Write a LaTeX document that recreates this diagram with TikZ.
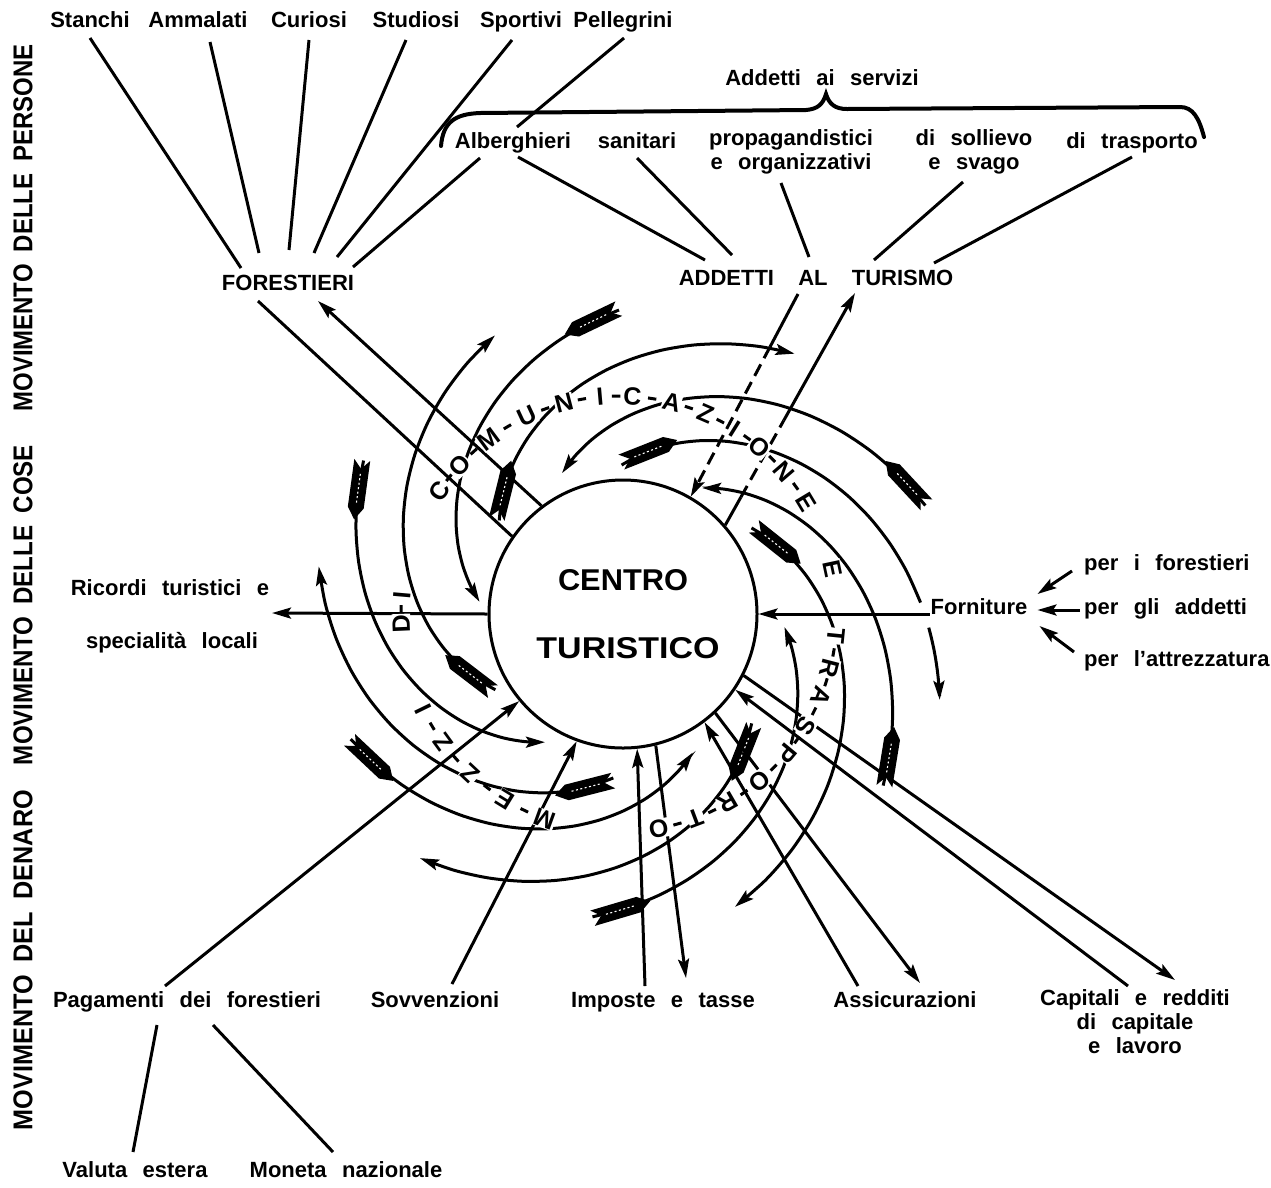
\documentclass[tikz,border=0pt]{standalone}
\usepackage{graphicx}
\usepackage{fontspec}
\setmainfont{Liberation Sans}
\usetikzlibrary{arrows.meta,calc}
\newcommand\lblfont{\fontsize{22}{24}\selectfont\bfseries\spaceskip=0.7em plus 0.1em\relax}
\newcommand\capfont{\fontsize{22}{24}\selectfont\bfseries\spaceskip=1.1em plus 0.1em\relax}
\newcommand\spir[6]{plot[smooth,domain=#1:#2,samples=15,variable=\t]({619+(#4+(#6-#4)*\t)*cos(#3+(#5-#3)*\t)},{614-(#4+(#6-#4)*\t)*sin(#3+(#5-#3)*\t)})}
\newcommand\fletchat[4]{%
  \pgfmathsetmacro\fDth{(#3-#1)*pi/180}%
  \pgfmathsetmacro\fSp{100*veclen((#4-#2)/100,#2*\fDth/100)}%
  \pgfmathsetmacro\fTm{28/\fSp}%
  \pgfmathsetmacro\fR{#2+(#4-#2)*\fTm}%
  \pgfmathsetmacro\fTh{#1+(#3-#1)*\fTm}%
  \pgfmathsetmacro\fDx{(#4-#2)*cos(\fTh)-\fR*\fDth*sin(\fTh)}%
  \pgfmathsetmacro\fDy{(#4-#2)*sin(\fTh)+\fR*\fDth*cos(\fTh)}%
  \pgfmathsetmacro\fAng{atan2(\fDy,\fDx)}%
  \begin{scope}[shift={({619+\fR*cos(\fTh)},{614-\fR*sin(\fTh)})},rotate=\fAng]
    \fill (-28,8) -- (20,8) -- (32,0) -- (20,-8) -- (-28,-8) -- (-19,0) -- cycle;
    \draw[white,line width=1.1pt,dash pattern=on 2pt off 2.5pt] (-14,0) -- (17,0);
  \end{scope}}
\tikzset{
  ln/.style={line width=3pt},
  arr/.style={ln,-{Stealth[length=19pt,width=11pt,inset=3.5pt]}},
  lbl/.style={font=\lblfont,inner sep=1pt,text height=16pt,text depth=5pt},
  mlbl/.style={font=\lblfont,inner sep=1pt,align=center},
  ringl/.style={font=\fontsize{25}{25}\selectfont\bfseries,fill=white,inner sep=0.6pt},
  side/.style={font=\fontsize{22}{22}\selectfont\bfseries,rotate=90,inner sep=0pt},
}
\begin{document}
\begin{tikzpicture}[x=1pt,y=-1pt]
\useasboundingbox (0,0) rectangle (1271,1187);
\node[draw,circle,line width=3pt,minimum size=268pt,inner sep=0pt,fill=white] (ct) at (623,614) {};

% ---------- side labels
\node[side] (mp) at (23,228) {\resizebox{367pt}{19pt}{MOVIMENTO\hspace{0.5em}DELLE\hspace{0.5em}PERSONE}};
\node[side] (mc) at (23,605) {\resizebox{320pt}{19pt}{MOVIMENTO\hspace{0.5em}DELLE\hspace{0.5em}COSE}};
\node[side] (md) at (23,960) {\resizebox{340pt}{19pt}{MOVIMENTO\hspace{0.5em}DEL\hspace{0.5em}DENARO}};

% ---------- top labels
\node[lbl] (sta) at (90,22) {Stanchi};
\node[lbl] (amm) at (198,22) {Ammalati};
\node[lbl] (cur) at (309,22) {Curiosi};
\node[lbl] (stu) at (416,22) {Studiosi};
\node[lbl] (spo) at (521,22) {Sportivi};
\node[lbl] (pel) at (623,22) {Pellegrini};
\node[lbl] (serv) at (822,80) {Addetti ai servizi};
\node[lbl] (alb) at (513,143) {Alberghieri};
\node[lbl] (san) at (637,143) {sanitari};
\node[mlbl] (prop) at (791,152) {propagandistici\\e organizzativi};
\node[mlbl] (soll) at (974,152) {di sollievo\\e svago};
\node[lbl] (trasp) at (1132,143) {di trasporto};
\node[lbl] (for) at (288,285) {FORESTIERI};
\node[lbl,font=\capfont] (addt) at (816,280) {ADDETTI AL TURISMO};

\draw[line width=4pt,line cap=round] (441,146) .. controls (443,122) and (455,114) .. (480,113) -- (806,110) .. controls (818,109) and (823,104) .. (826,94) .. controls (829,104) and (835,109) .. (847,109) -- (1180,107) .. controls (1193,107) and (1199,118) .. (1204,137);

\coordinate (f1) at (241,268); \coordinate (f2) at (259,253); \coordinate (f3) at (289,250);
\coordinate (f4) at (314,253); \coordinate (f5) at (337,257); \coordinate (f6) at (353,267);
\coordinate (s1) at (90,38); \coordinate (s2) at (210,42); \coordinate (s3) at (309,40);
\coordinate (s4) at (406,40); \coordinate (s5) at (512,40); \coordinate (s6) at (624,38);
\coordinate (s6e) at (517,127);
\coordinate (al1) at (480,158); \coordinate (al2) at (518,157);
\coordinate (sa1) at (637,158); \coordinate (pr1) at (781,183); \coordinate (so1) at (963,182); \coordinate (tr1) at (1132,157);
\coordinate (a1) at (705,260); \coordinate (a2) at (732,255); \coordinate (a3) at (809,257); \coordinate (a4) at (874,260); \coordinate (a5) at (934,263);
\draw[ln] (s1) -- (f1); \draw[ln] (s2) -- (f2); \draw[ln] (s3) -- (f3);
\draw[ln] (s4) -- (f4); \draw[ln] (s5) -- (f5); \draw[ln] (s6) -- (s6e);
\draw[ln] (al1) -- (f6); \draw[ln] (al2) -- (a1); \draw[ln] (sa1) -- (a2);
\draw[ln] (pr1) -- (a3); \draw[ln] (so1) -- (a4); \draw[ln] (tr1) -- (a5);

% ---------- spiral arrows
\draw[arr] \spir{0}{1}{149}{298}{240}{148};     \fletchat{149}{298}{240}{148}
\draw[arr] \spir{0}{1}{90}{304}{175}{140};      \fletchat{90}{304}{175}{140}
\draw[arr] \spir{0}{1}{19.5}{325}{112}{152};    \fletchat{19.5}{325}{112}{152}
\draw[arr] \spir{0}{1}{327}{315}{416.6}{151};   \fletchat{327}{315}{416.6}{151}
\draw[arr] \spir{0}{1}{265}{304}{355.5}{166};   \fletchat{265}{304}{355.5}{166}
\draw[arr] \spir{0}{1}{205}{296}{298}{157};     \fletchat{205}{296}{298}{157}
\draw[arr] \spir{0}{1}{211.5}{145}{114}{305};   \fletchat{211.5}{145}{114}{305}
\draw[arr] \spir{0}{1}{142}{152}{56}{314};      \fletchat{142}{152}{56}{314}
\draw[ln]  \spir{0}{0.835}{449}{149}{345}{332}; \fletchat{449}{149}{345}{332}
\draw[arr] \spir{0.88}{1}{449}{149}{345}{332};
\draw[arr] \spir{0}{1}{393}{158}{291.6}{315};   \fletchat{393}{158}{291.6}{315}
\draw[arr] \spir{0}{1}{320.5}{172}{230.8}{315}; \fletchat{320.5}{172}{230.8}{315}
\draw[arr] \spir{0}{1}{268}{164}{171}{304};     \fletchat{268}{164}{171}{304}

% ---------- straight flows
\coordinate (forA) at (318,301); \coordinate (forB) at (258,301);
\draw[arr] (ct.127) -- (forA);
\draw[ln] (forB) -- (ct.145.5);
\coordinate (adA) at (798,294); \coordinate (adB) at (855,293);
\coordinate (adA1) at ($(adA)!0.26!(ct.60)$);
\draw[ln] (adA) -- (adA1);
\draw[arr,dash pattern=on 13pt off 7pt] (adA1) -- (ct.60);
\coordinate (adB1) at ($(ct.41.4)!0.12!(adB)$); \coordinate (adB2) at ($(ct.41.4)!0.45!(adB)$);
\draw[ln] (ct.41.4) -- (adB1);
\draw[ln,dash pattern=on 13pt off 7pt] (adB1) -- (adB2);
\draw[arr] (adB2) -- (adB);

\node[lbl] (ric1) at (170,590) {Ricordi turistici e};
\node[lbl] (ric2) at (172,643) {specialità locali};
\coordinate (ricA) at (272,613);
\draw[arr] (ct.180) -- (ricA);

\node[lbl,fill=white] (forn) at (979,609) {Forniture};
\draw[arr] (forn.west |- ct.east) -- (ct.east);
\node[lbl,anchor=west] (per1) at (1083,565) {per i forestieri};
\node[lbl,anchor=west] (per2) at (1083,609) {per gli addetti};
\node[lbl,anchor=west] (per3) at (1083,661) {per l'attrezzatura};
\draw[arr] ($(per1.west)+(-11,6)$) -- ($(forn.east)+(9,-15)$);
\draw[arr] ($(per2.west)+(-3,1)$) -- ($(forn.east)+(9,1)$);
\draw[arr] ($(per3.west)+(-9,-9)$) -- ($(forn.east)+(11,17)$);

\node[lbl] (pag) at (187,1002) {Pagamenti dei forestieri};
\node[lbl] (sov) at (435,1002) {Sovvenzioni};
\node[lbl] (imp) at (663,1002) {Imposte e tasse};
\node[lbl] (ass) at (905,1002) {Assicurazioni};
\node[mlbl] (cap) at (1135,1022) {Capitali e redditi\\di capitale\\e lavoro};
\node[lbl] (val) at (135,1172) {Valuta estera};
\node[lbl] (mon) at (346,1172) {Moneta nazionale};

\coordinate (pg1) at (165,986); \coordinate (sv1) at (452,984);
\coordinate (im1) at (645,986); \coordinate (im2) at (686,978);
\coordinate (as1) at (858,986); \coordinate (as2) at (920,983);
\coordinate (cp1) at (1128,986); \coordinate (cp2) at (1175,980);
\draw[arr] (pg1) -- (ct.220.6);
\draw[arr] (sv1) -- (ct.250.8);
\draw[arr] (im1) -- (ct.276);
\draw[arr] (ct.284.8) -- (im2);
\draw[arr] (as1) -- (ct.307);
\draw[arr] (ct.313) -- (as2);
\draw[arr] (cp1) -- (ct.326.5);
\draw[arr] (ct.333) -- (cp2);
\coordinate (pv1) at (157,1025); \coordinate (pv2) at (133,1152);
\coordinate (pm1) at (213,1025); \coordinate (pm2) at (333,1152);
\draw[ln] (pv1) -- (pv2);
\draw[ln] (pm1) -- (pm2);

% ---------- ring lettering
\foreach \m in {244.25,232.75,221.5,211,178.75,141.3,131.8,120.8,109.8,99.8,90.75,81.25,71.3,62.3,54,45.35,35.85,-10.15,-18.25,-26.5,-35.3,-44.8,-55,-64.7,-74.45}
  \draw[ln] ({619+218*cos(\m-1.1)},{614-218*sin(\m-1.1)}) -- ({619+218*cos(\m+1.1)},{614-218*sin(\m+1.1)});
\foreach \a/\l [count=\i] in {250/M,238.5/E,227/Z,216/Z,206/I,182.5/D,175/I,145.6/C,137/O,126.6/M,115/U,104.6/N,95/I,86.5/C,76/A,66.6/Z,58/I,50/O,40.7/N,31/E,12/E,-5.8/T,-14.5/R,-22/A,-31/S,-39.6/P,-50/O,-60/R,-69.4/T,-79.5/O}
  \node[ringl,rotate=\a-90] (R\i) at ({619+218*cos(\a)},{614-218*sin(\a)}) {\l};

% ---------- centre
\node[font=\bfseries] (cen1) at (623,580) {\resizebox{130pt}{21pt}{CENTRO}};
\node[font=\bfseries] (cen2) at (628,648) {\resizebox{183pt}{21pt}{TURISTICO}};
\end{tikzpicture}
\end{document}
